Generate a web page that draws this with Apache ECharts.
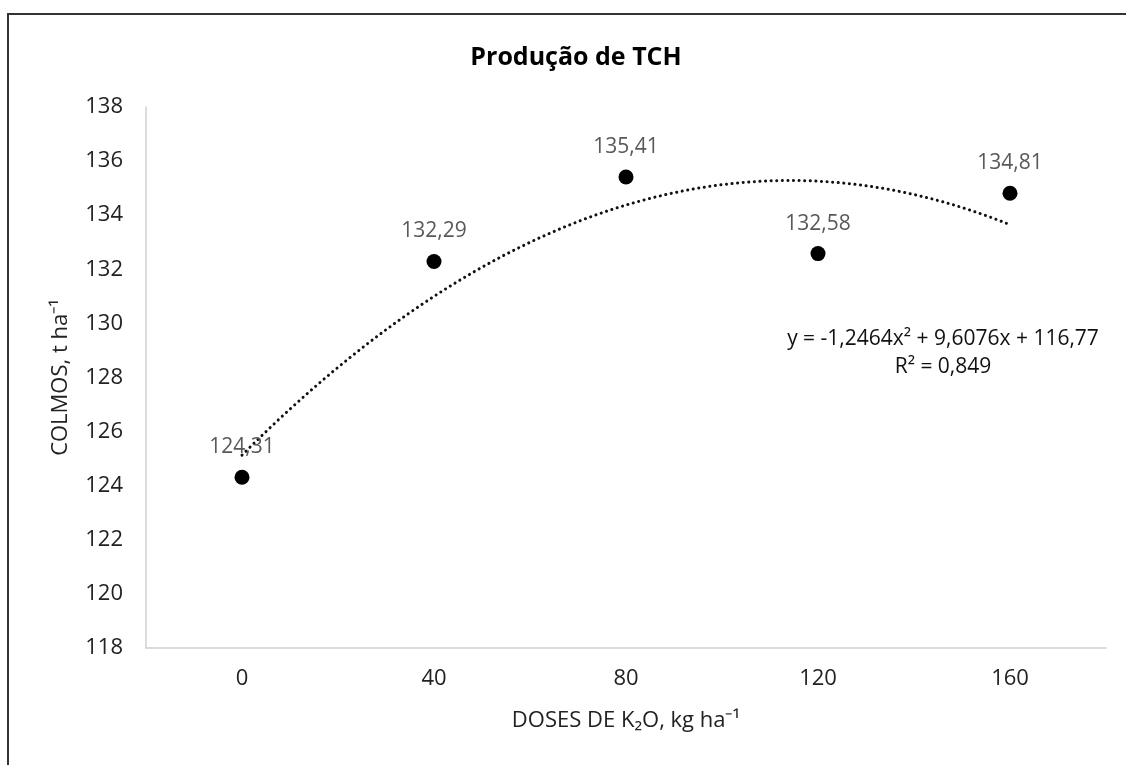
<!DOCTYPE html>
<html><head><meta charset="utf-8">
<script src="https://cdn.jsdelivr.net/npm/echarts@6/dist/echarts.min.js"></script>
<style>html,body{margin:0;padding:0;background:#fff}#c{width:1126px;height:765px;position:relative}
#frame{position:absolute;left:7px;top:13px;width:1130px;height:800px;border-left:2px solid #333;border-top:2px solid #333;pointer-events:none}</style>
</head><body><div id="c"></div><div id="frame"></div>
<script>
const categories = ['0', '40', '80', '120', '160'];
const values = [124.31, 132.29, 135.41, 132.58, 134.81];
const labels = ['124,31', '132,29', '135,41', '132,58', '134,81'];
const trendCoef = [-1.2464, 9.6076, 116.77]; // y = a x^2 + b x + c, x = 1..5
const yTicks = [118, 138, 2];

const trend = [];
for (let i = 0; i <= 80; i++) {
  const x = 1 + i * 4 / 80;
  trend.push([x, trendCoef[0] * x * x + trendCoef[1] * x + trendCoef[2]]);
}
const font = 'Open Sans';
const chart = echarts.init(document.getElementById('c'));
chart.setOption({
  animation: false,
  title: { text: 'Produção de TCH', left: 571, top: 40, textAlign: 'center',
    textStyle: { fontFamily: font, fontSize: 25, fontWeight: 'bold', color: '#000' } },
  grid: { left: 146, right: 20, top: 107, bottom: 117 },
  xAxis: [
    { type: 'category', data: categories, boundaryGap: true,
      axisLine: { lineStyle: { color: '#d0d0d0', width: 1.5 } }, axisTick: { show: false },
      axisLabel: { fontFamily: font, fontSize: 22, color: '#222', margin: 20 },
      name: 'DOSES DE K₂O, kg ha⁻¹', nameLocation: 'middle', nameGap: 62,
      nameTextStyle: { fontFamily: font, fontSize: 22, color: '#222' } },
    { type: 'value', min: 0.5, max: 5.5, show: false }
  ],
  yAxis: { type: 'value', min: yTicks[0], max: yTicks[1], interval: yTicks[2],
    axisLine: { show: true, lineStyle: { color: '#d0d0d0', width: 1.5 } }, axisTick: { show: false },
    splitLine: { show: false },
    axisLabel: { fontFamily: font, fontSize: 22, color: '#222', margin: 23 },
    name: 'COLMOS, t ha⁻¹', nameLocation: 'middle', nameGap: 74, nameRotate: 90,
    nameTextStyle: { fontFamily: font, fontSize: 22, color: '#222' } },
  series: [
    { type: 'line', xAxisIndex: 1, data: trend, showSymbol: false, smooth: false,
      lineStyle: { color: '#111', width: 3, type: [0.1, 5.5], cap: 'round' }, z: 2 },
    { type: 'scatter', xAxisIndex: 0, data: values, symbolSize: 15,
      itemStyle: { color: '#000', opacity: 1 }, z: 3,
      label: { show: true, position: 'top', distance: 12, fontFamily: font, fontSize: 21, color: '#595959',
        formatter: p => labels[p.dataIndex] } }
  ],
  graphic: [
    { type: 'text', x: 943, y: 325, style: { text: 'y = -1,2464x² + 9,6076x + 116,77\nR² = 0,849',
      font: '21px "Open Sans"', fill: '#111', align: 'center', lineHeight: 28 } }
  ]
});
</script></body></html>
